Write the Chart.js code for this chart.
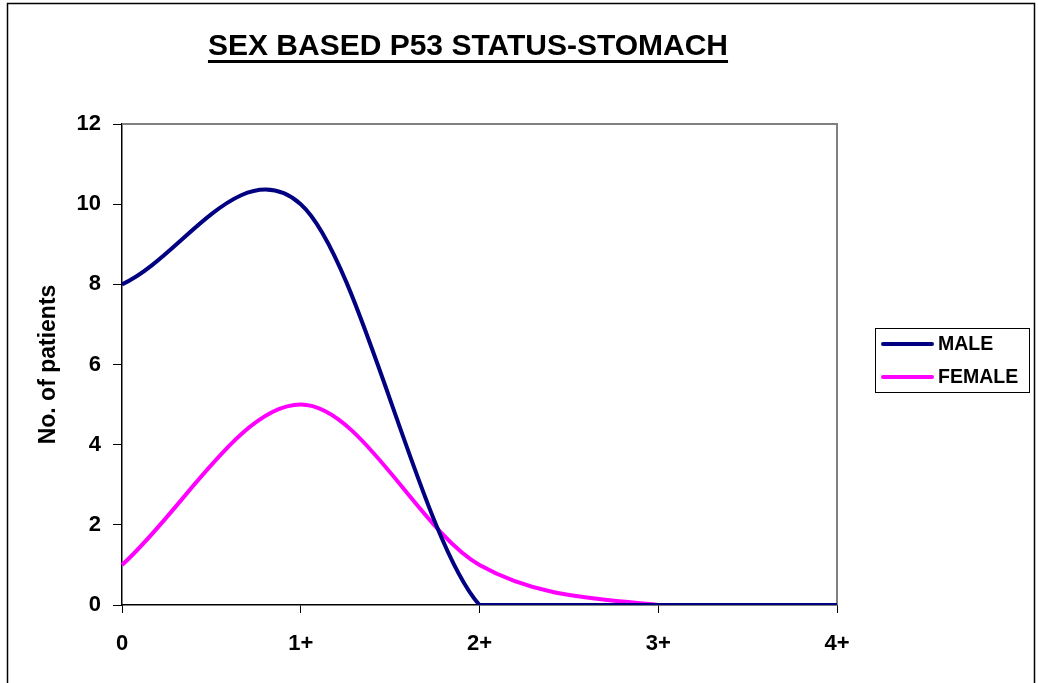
<!DOCTYPE html>
<html>
<head>
<meta charset="utf-8">
<script src="https://cdn.jsdelivr.net/npm/chart.js@4"></script>
<style>
  html,body{margin:0;padding:0;background:#fff;}
  #wrap{width:1038px;height:683px;position:relative;}
</style>
</head>
<body>
<div id="wrap"><canvas id="c" width="1038" height="683"></canvas></div>
<script>
// chart data
const categories = ["0", "1+", "2+", "3+", "4+"];
const maleValues = [8, 10, 0, 0, 0];
const femaleValues = [1, 5, 1, 0, 0];
const seriesNames = ["MALE", "FEMALE"];
const titleText = "SEX BASED P53 STATUS-STOMACH";
const yTitle = "No. of patients";

const FONT = "'Liberation Sans', Arial, sans-serif";

// Excel style smoothing: catmull-rom (1/6) control points, capped to plot area
function excelSmooth(chart){
  const a = chart.chartArea;
  const cap = (v, lo, hi) => Math.max(lo, Math.min(hi, v));
  chart.data.datasets.forEach((ds, di) => {
    const meta = chart.getDatasetMeta(di);
    if(!meta.dataset) return;
    const pts = meta.dataset.points; // forces default update first
    const n = pts.length;
    pts.forEach((p, i) => {
      let dx, dy, f = 1/6;
      if(i === 0){ dx = pts[1].x - p.x; dy = pts[1].y - p.y; f = 1/3; }
      else if(i === n-1){ dx = p.x - pts[i-1].x; dy = p.y - pts[i-1].y; f = 1/3; }
      else { dx = pts[i+1].x - pts[i-1].x; dy = pts[i+1].y - pts[i-1].y; }
      p.cp1x = cap(p.x - dx*f, a.left, a.right);
      p.cp1y = cap(p.y - dy*f, a.top, a.bottom);
      p.cp2x = cap(p.x + dx*f, a.left, a.right);
      p.cp2y = cap(p.y + dy*f, a.top, a.bottom);
    });
  });
}

// border, title, plot frame and legend drawn by hand (Excel look)
const excelBits = {
  id: "excelBits",
  beforeDatasetsDraw(chart){
    excelSmooth(chart);
    const a = chart.chartArea, ctx = chart.ctx;
    ctx.save();
    ctx.strokeStyle = "#808080"; ctx.lineWidth = 2;
    ctx.beginPath();
    ctx.moveTo(a.left, a.top); ctx.lineTo(a.right, a.top); ctx.lineTo(a.right, a.bottom);
    ctx.stroke();
    ctx.restore();
  },
  afterDraw(chart){
    const ctx = chart.ctx;
    ctx.save();
    // outer frame
    ctx.strokeStyle = "#000"; ctx.lineWidth = 1.5;
    ctx.strokeRect(7.5, 3.5, 1027, 700);
    // title
    ctx.fillStyle = "#000";
    ctx.font = "bold 30px " + FONT;
    ctx.textAlign = "center"; ctx.textBaseline = "alphabetic";
    ctx.fillText(titleText, 468, 55);
    const w = ctx.measureText(titleText).width;
    ctx.fillRect(468 - w/2, 60, w, 3);
    // legend
    ctx.lineWidth = 1; ctx.strokeStyle = "#000";
    ctx.strokeRect(875.5, 328.5, 154, 64);
    ctx.font = "bold 19.5px " + FONT;
    ctx.textAlign = "left"; ctx.textBaseline = "middle";
    chart.data.datasets.forEach((ds, i) => {
      const y = 344 + i * 33;
      ctx.strokeStyle = ds.borderColor; ctx.lineWidth = 4; ctx.lineCap = "round";
      ctx.beginPath(); ctx.moveTo(883, y); ctx.lineTo(932, y); ctx.stroke();
      ctx.fillStyle = "#000";
      ctx.fillText(ds.label, 938, y + 1);
    });
    ctx.restore();
  }
};

new Chart(document.getElementById("c"), {
  type: "line",
  data: {
    labels: categories,
    datasets: [
      {label: seriesNames[0], data: maleValues, borderColor: "#000080", backgroundColor: "#000080",
       borderWidth: 4, pointRadius: 0, tension: 0.5, fill: false},
      {label: seriesNames[1], data: femaleValues, borderColor: "#FF00FF", backgroundColor: "#FF00FF",
       borderWidth: 4, pointRadius: 0, tension: 0.5, fill: false}
    ]
  },
  options: {
    responsive: false,
    animation: false,
    layout: {padding: {top: 124, right: 201, left: 0, bottom: 0}},
    plugins: {legend: {display: false}, title: {display: false}, tooltip: {enabled: false}},
    scales: {
      x: {
        offset: false,
        grid: {drawOnChartArea: false, drawTicks: true, tickLength: 8, tickColor: "#000"},
        border: {display: true, color: "#000", width: 1.5},
        ticks: {color: "#000", font: {family: FONT, size: 22, weight: "bold"}, padding: 18, maxRotation: 0},
        afterFit(s){ s.height = 78; }
      },
      y: {
        min: 0, max: 12,
        grid: {drawOnChartArea: false, drawTicks: true, tickLength: 9, tickColor: "#000"},
        border: {display: true, color: "#000", width: 1.5},
        ticks: {stepSize: 2, color: "#000", font: {family: FONT, size: 22, weight: "bold"}, padding: 12},
        title: {display: true, text: yTitle, color: "#000", font: {family: FONT, size: 23, weight: "bold"}, padding: {top: 35, bottom: 0}},
        afterFit(s){ s.width = 122; }
      }
    }
  },
  plugins: [excelBits]
});
</script>
</body>
</html>
